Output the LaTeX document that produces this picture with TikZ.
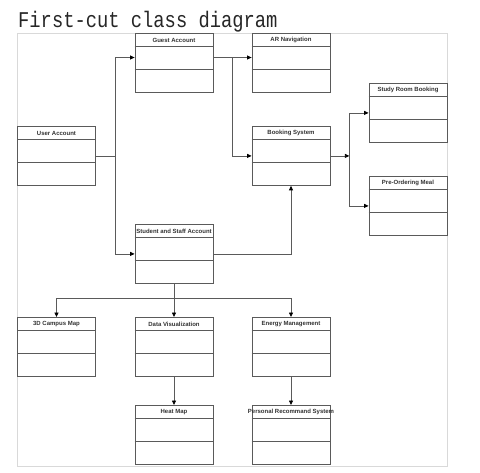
\documentclass[tikz,border=0pt]{standalone}
\usepackage{fontspec}
\setmainfont{Liberation Sans}
\newfontfamily\titlefont{Liberation Mono}
\usepackage{graphicx}
\usepackage{xcolor}
\usetikzlibrary{arrows.meta, calc, positioning}
\definecolor{linegray}{HTML}{5A5A5A}
\definecolor{framegray}{HTML}{D9D9D9}
\definecolor{textgray}{HTML}{333333}

\begin{document}
\begin{tikzpicture}[
    x=1pt, y=-1pt,
    classbox/.style={
        rectangle,
        draw=linegray,
        fill=white,
        line width=0.8pt,
        minimum width=78pt,
        minimum height=59pt,
        inner sep=0pt,
        anchor=north
    },
    classname/.style={
        font=\fontsize{6}{7}\selectfont\bfseries,
        text=textgray,
        inner sep=0pt
    },
    link/.style={draw=linegray, line width=0.8pt},
    arr/.style={link, -{Triangle[length=4.5pt, width=4pt, color=black]}}
]
    \useasboundingbox (0,0) rectangle (480,472);

    % Title and frame
    \node[anchor=base west, inner sep=0pt, text=black!85,
          font=\titlefont\fontsize{22.5}{22.5}\selectfont] (title) at (18,27)
          {\scalebox{0.835}[1]{First-cut class diagram}};
    \draw[framegray, line width=0.8pt] (17,33) rectangle (447,466);

    % Classes: header + two compartments
    \foreach \n/\x/\y/\t in {
        guest/174/33/Guest Account,
        ar/291/33/AR Navigation,
        study/408/83/Study Room Booking,
        user/56.5/126/User Account,
        booking/291/126/Booking System,
        preorder/408/176/Pre-Ordering Meal,
        student/174/224/Student and Staff Account,
        campus/56.5/317/3D Campus Map,
        datavis/174/317/Data Visualization,
        energy/291/317/Energy Management,
        heat/174/405/Heat Map,
        personal/291/405/Personal Recommand System} {
        \node[classbox] (\n) at (\x,\y) {};
        \draw[link] ($(\n.north west)+(0,13)$) -- ($(\n.north east)+(0,13)$);
        \draw[link] ($(\n.north west)+(0,36)$) -- ($(\n.north east)+(0,36)$);
        \node[classname] (\n-name) at ($(\n.north)+(0,7)$) {\t};
        \coordinate (\n-a) at ($(\n.north)+(0,24.5)$);
    }

    % User Account links
    \draw[link] (user.east) -- ++(19,0) coordinate (ubus);
    \draw[arr] (ubus) |- (guest.west |- guest-a);
    \draw[arr] (ubus) |- (student.west);

    % Guest Account links
    \draw[link] (guest.east |- guest-a) -- ++(19,0) coordinate (gbus);
    \draw[arr] (gbus) -- (ar.west |- ar-a);
    \draw[arr] (gbus) |- (booking.west);

    % Booking System split
    \draw[arr] (booking.east) -- ++(19,0) coordinate (bsplit);
    \draw[arr] (bsplit) |- (study.west);
    \draw[arr] (bsplit) |- (preorder.west);

    % Student and Staff Account links
    \draw[arr] (student.east) -| (booking.south);
    \draw[link] (student.south) -- ++(0,15) coordinate (sbus);
    \draw[arr] (sbus) -| (campus.north);
    \draw[arr] (sbus) -- (datavis.north);
    \draw[arr] (sbus) -| (energy.north);

    % Lower level
    \draw[arr] (datavis.south) -- (heat.north);
    \draw[arr] (energy.south) -- (personal.north);
\end{tikzpicture}
\end{document}
